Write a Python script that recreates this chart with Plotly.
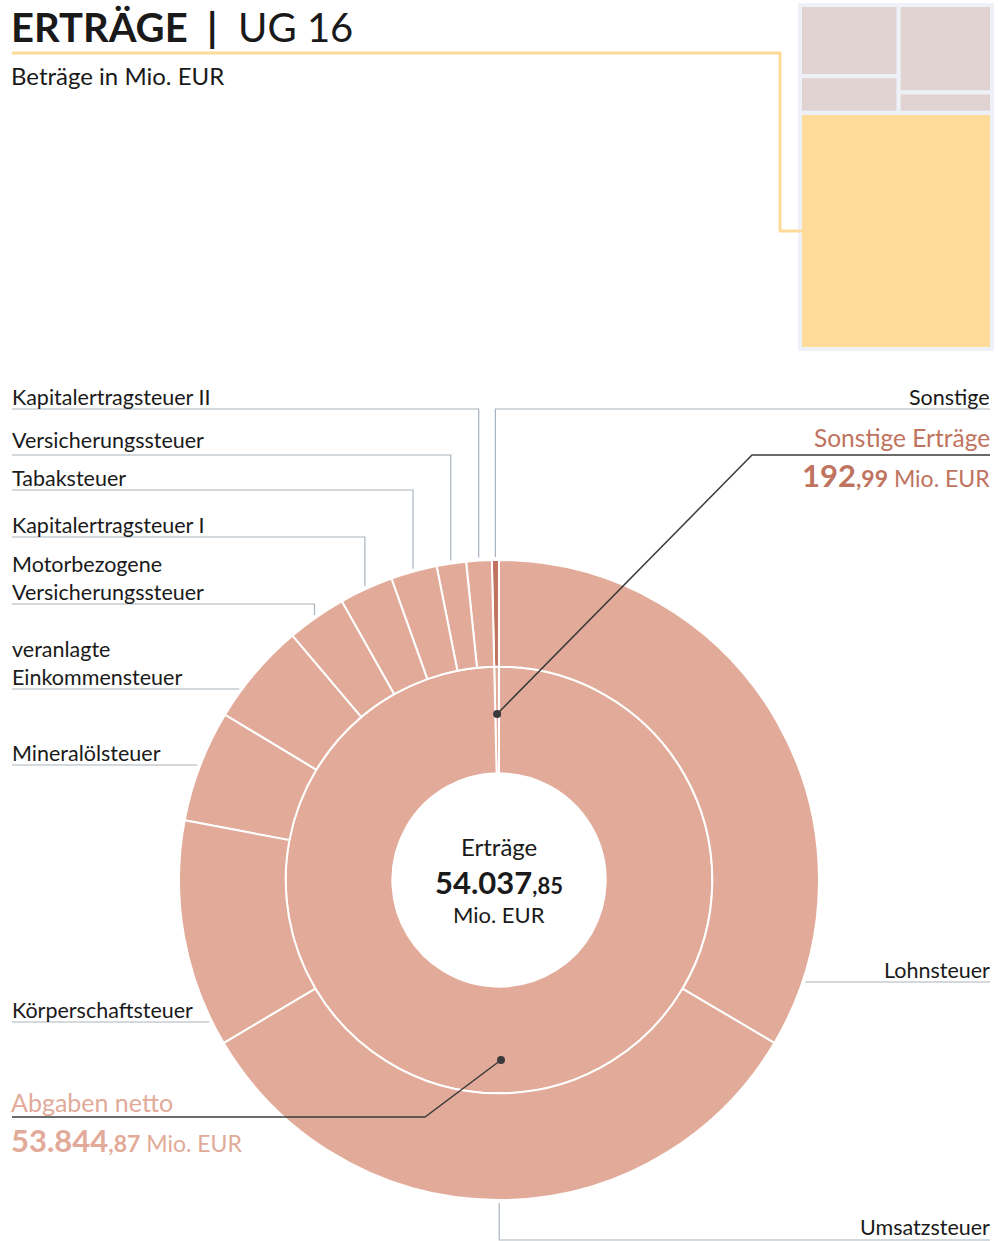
import math
import plotly.graph_objects as go

W, H = 998, 1241

# ---------------- data ----------------
root_label = "Erträge"
root_value = 54037.85
inner_labels = ["Abgaben netto", "Sonstige Erträge"]
inner_values = [53844.87, 192.99]

tax_labels = ["Lohnsteuer", "Umsatzsteuer", "Körperschaftsteuer", "Mineralölsteuer",
              "veranlagte Einkommensteuer", "Motorbezogene Versicherungssteuer",
              "Kapitalertragsteuer I", "Tabaksteuer", "Versicherungssteuer",
              "Kapitalertragsteuer II"]
tax_values = [18100, 17830, 6215, 3050, 2805, 1620, 1470, 1260, 800, 695]
other_labels = ["Sonstige"]
other_values = [192.99]

# small locator treemap (top right)
tm_ids = ["Gesamt", "Oben", "Links", "Rechts", "Links oben", "Links unten",
          "Rechts oben", "Rechts unten", "UG 16"]
tm_parents = ["", "Gesamt", "Oben", "Oben", "Links", "Links", "Rechts", "Rechts", "Gesamt"]
tm_values = [0, 0, 0, 0, 6270, 3230, 7300, 1690, 40500]

# ---------------- style ----------------
FONT = "Lato"
SALMON = "#E2AA98"
DARK = "#C0735E"
TXT = "#1a1a1a"
GREY = "#A9B3BE"
LINE_DARK = "#3b3b3b"
CX, CY, R = 499, 880, 320
LBL = 21.5


def de(v):
    s = f"{v:,.2f}"
    return s.replace(",", "X").replace(".", ",").replace("X", ".")


def split_num(v):
    a, b = de(v).split(",")
    return a, b


# ---------------- sunburst ----------------
ids = ["root", "SE", "AN", "SE/" + other_labels[0]]
labels = [root_label, inner_labels[1], inner_labels[0], other_labels[0]]
parents = ["", "root", "root", "SE"]
values = [0, 0, 0, other_values[0]]
colors = ["#FFFFFF", SALMON, SALMON, DARK]
for lab, val in zip(reversed(tax_labels), reversed(tax_values)):
    ids.append("AN/" + lab)
    labels.append(lab)
    parents.append("AN")
    values.append(val)
    colors.append(SALMON)

fig = go.Figure()
fig.add_trace(go.Sunburst(
    ids=ids, labels=labels, parents=parents, values=values,
    branchvalues="remainder", sort=False, rotation=90,
    marker=dict(colors=colors, line=dict(color="white", width=2)),
    leaf=dict(opacity=1), textinfo="none", hoverinfo="skip",
    domain=dict(x=[(CX - R) / W, (CX + R) / W], y=[1 - (CY + R) / H, 1 - (CY - R) / H]),
))

# treemap
fig.add_trace(go.Treemap(
    ids=tm_ids, labels=tm_ids, parents=tm_parents, values=tm_values,
    branchvalues="remainder", sort=False,
    tiling=dict(packing="dice-slice", pad=0),
    marker=dict(colors=["#EEF2F8", "#EEF2F8", "#EEF2F8", "#EEF2F8", "#E2D3D3", "#E2D3D3",
                        "#E2D3D3", "#E2D3D3", "#FEDB98"],
                line=dict(color="#EEF2F8", width=4), pad=dict(t=0, l=0, r=0, b=0)),
    textinfo="none", hoverinfo="skip", pathbar=dict(visible=False),
    domain=dict(x=[800 / W, 992 / W], y=[1 - 349 / H, 1 - 5 / H]),
))

# ---------------- geometry from data ----------------
leaf_total = sum(tax_values) + sum(other_values)
angles = {}
cum = 0.0
for lab, val in zip(tax_labels, tax_values):
    a0 = cum / leaf_total * 360
    cum += val
    angles[lab] = (a0, cum / leaf_total * 360)
for lab, val in zip(other_labels, other_values):
    a0 = cum / leaf_total * 360
    cum += val
    angles[lab] = (a0, cum / leaf_total * 360)
an_mid = (0 + sum(tax_values) / leaf_total * 360) / 2
se_mid = (sum(tax_values) / leaf_total * 360 + 360) / 2


def pt(theta, r):
    t = math.radians(theta)
    return CX + r * math.sin(t), CY - r * math.cos(t)


shapes = []
annos = []


def seg(path, color=GREY, width=1.2):
    shapes.append(dict(type="path", path=path, xref="x", yref="y",
                       line=dict(color=color, width=width), layer="above"))


def dot(x, y, r=4):
    shapes.append(dict(type="circle", xref="x", yref="y", x0=x - r, x1=x + r,
                       y0=y - r, y1=y + r, fillcolor=LINE_DARK,
                       line=dict(width=0), layer="above"))


display = {"Motorbezogene Versicherungssteuer": "Motorbezogene<br>Versicherungssteuer",
           "veranlagte Einkommensteuer": "veranlagte<br>Einkommensteuer"}
text_shift = {"Versicherungssteuer": -3}

left_elbow = {"Kapitalertragsteuer II": 409, "Versicherungssteuer": 455, "Tabaksteuer": 490,
              "Kapitalertragsteuer I": 537, "Motorbezogene Versicherungssteuer": 604}
left_side = {"veranlagte Einkommensteuer": 689, "Mineralölsteuer": 765, "Körperschaftsteuer": 1022}
right_side = {"Lohnsteuer": 982}
right_elbow = {"Sonstige": 409}
bottom_elbow = {"Umsatzsteuer": 1240}


def label(lab, x, y, anchor, yanchor="bottom"):
    annos.append(dict(text=display.get(lab, lab), x=x, y=y + text_shift.get(lab, 0),
                      xref="x", yref="y", xanchor=anchor,
                      yanchor=yanchor, showarrow=False,
                      font=dict(family=FONT, size=LBL, color=TXT), align="left"))


for lab, ly in left_elbow.items():
    a0, a1 = angles[lab]
    ax, ay = pt((a0 + a1) / 2, R + 3)
    seg(f"M 12 {ly} L {ax:.1f} {ly} L {ax:.1f} {ay:.1f}")
    label(lab, 10, ly + 3, "left")
for lab, ly in right_elbow.items():
    a0, a1 = angles[lab]
    ax, ay = pt((a0 + a1) / 2, R + 3)
    seg(f"M 990 {ly} L {ax:.1f} {ly} L {ax:.1f} {ay:.1f}")
    label(lab, 992, ly + 3, "right")
for lab, ly in left_side.items():
    ex = CX - math.sqrt(R ** 2 - (ly - CY) ** 2) - 3
    seg(f"M 12 {ly} L {ex:.1f} {ly}")
    label(lab, 10, ly + 3, "left")
for lab, ly in right_side.items():
    ex = CX + math.sqrt(R ** 2 - (ly - CY) ** 2) + 3
    seg(f"M 990 {ly} L {ex:.1f} {ly}")
    label(lab, 992, ly + 3, "right")
for lab, ly in bottom_elbow.items():
    a0, a1 = angles[lab]
    ax, ay = pt((a0 + a1) / 2, R + 3)
    seg(f"M 990 {ly} L {ax:.1f} {ly} L {ax:.1f} {ay:.1f}")
    label(lab, 992, ly - 13, "right", "middle")

# inner-ring call-outs
se_x, se_y = pt(se_mid, 166)
an_x, an_y = pt(an_mid, 180)
seg(f"M {se_x:.1f} {se_y:.1f} L 752 455 L 990 455", LINE_DARK, 1.5)
seg(f"M {an_x:.1f} {an_y:.1f} L 425 1117 L 12 1117", LINE_DARK, 1.5)
dot(se_x, se_y)
dot(an_x, an_y)

# yellow connector to locator
seg("M 12 53 L 780 53 L 780 231 L 802 231", "#FEDB98", 3)

# texts
se_a, se_b = split_num(inner_values[1])
an_a, an_b = split_num(inner_values[0])
rt_a, rt_b = split_num(root_value)


def txt(text, x, y, anchor, size, color=TXT):
    annos.append(dict(text=text, x=x, y=y, xref="x", yref="y", xanchor=anchor,
                      yanchor="middle", showarrow=False,
                      font=dict(family=FONT, size=size, color=color)))


txt("<b>ERTRÄGE&nbsp;&nbsp;|</b>&nbsp;&nbsp;UG 16", 9, 27, "left", 40)
txt("Beträge in Mio. EUR", 9, 75, "left", 24)

txt(root_label, CX, 846, "center", 24)
txt(f"<b><span style='font-size:31px'>{rt_a}</span>,{rt_b}</b>", CX, 882, "center", 22)
txt("Mio. EUR", CX, 914, "center", 22)

txt(inner_labels[1], 992, 437, "right", 24.5, DARK)
txt(f"<b><span style='font-size:31px'>{se_a}</span>,{se_b}</b> Mio. EUR", 992, 475, "right", 23, DARK)
txt(inner_labels[0], 9, 1102, "left", 25, SALMON)
txt(f"<b><span style='font-size:31px'>{an_a}</span>,{an_b}</b> Mio. EUR", 9, 1140, "left", 23, SALMON)

fig.update_layout(
    width=W, height=H, margin=dict(l=0, r=0, t=0, b=0),
    paper_bgcolor="white", plot_bgcolor="white", showlegend=False,
    xaxis=dict(range=[0, W], visible=False, fixedrange=True, domain=[0, 1]),
    yaxis=dict(range=[H, 0], visible=False, fixedrange=True, domain=[0, 1]),
    shapes=shapes, annotations=annos,
    font=dict(family=FONT),
)

fig.write_html("out.html", config={"displayModeBar": False},
               post_script="document.body.style.margin='0px';document.body.style.overflow='hidden';")
